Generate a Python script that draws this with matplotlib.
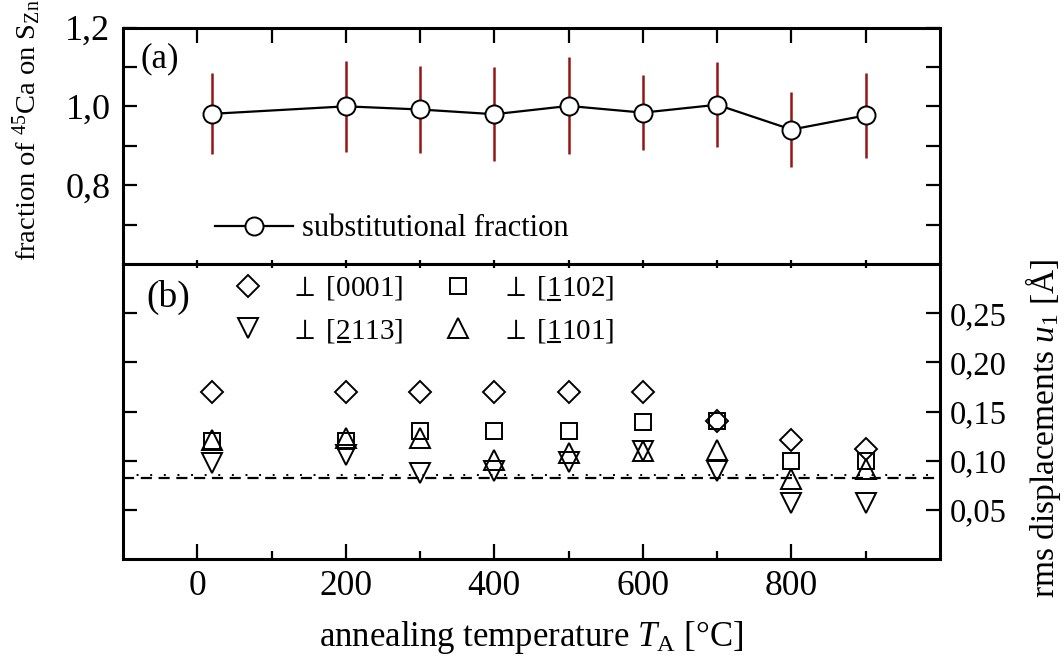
import matplotlib
matplotlib.use('Agg')
import matplotlib.pyplot as plt
from matplotlib.ticker import FixedLocator, FuncFormatter
from matplotlib.lines import Line2D
from matplotlib.transforms import IdentityTransform

plt.rcParams['font.family'] = ['Liberation Serif', 'DejaVu Serif']
plt.rcParams['mathtext.fontset'] = 'custom'
plt.rcParams['mathtext.rm'] = 'Liberation Serif'
plt.rcParams['mathtext.it'] = 'Liberation Serif:italic'
plt.rcParams['mathtext.bf'] = 'Liberation Serif:bold'

# ---------------- data ----------------
temps = [20, 200, 300, 400, 500, 600, 700, 800, 900]
fraction = [0.981, 1.000, 0.992, 0.980, 1.001, 0.984, 1.004, 0.941, 0.977]
fraction_err = [0.103, 0.116, 0.110, 0.119, 0.123, 0.095, 0.108, 0.095, 0.107]

u_0001 = [0.170, 0.170, 0.170, 0.170, 0.170, 0.170, 0.140, 0.121, 0.112]
u_1102 = [0.120, 0.120, 0.130, 0.130, 0.130, 0.139, 0.140, 0.100, 0.100]
u_2113 = [0.098, 0.106, 0.087, 0.089, 0.099, 0.110, 0.089, 0.057, 0.057]
u_1101 = [0.121, 0.123, 0.123, 0.101, 0.108, 0.110, 0.111, 0.081, 0.092]

ref_dashed = 0.0823
ref_dotted = 0.0855

top_yticks = [0.8, 1.0, 1.2]
top_yticklabels = ['0,8', '1,0', '1,2']
bot_yticks = [0.05, 0.10, 0.15, 0.20, 0.25]
bot_yticklabels = ['0,05', '0,10', '0,15', '0,20', '0,25']
xticks = [0, 200, 400, 600, 800]
xticks_minor = [100, 300, 500, 700, 900]

# direction labels; the digit at index "underlined" (inside the bracket) is underlined
label_0001, ul_0001 = r'$\perp$ [0001]', None
label_2113, ul_2113 = r'$\perp$ [2113]', 0
label_1102, ul_1102 = r'$\perp$ [1102]', 0
label_1101, ul_1101 = r'$\perp$ [1101]', 0


def fmt_from(ticks, labels):
    def f(v, p):
        for t, l in zip(ticks, labels):
            if abs(v - t) < 1e-6:
                return l
        return ''
    return FuncFormatter(f)


# ---------------- figure ----------------
W, H = 1064, 665
fig = plt.figure(figsize=(W / 100, H / 100), dpi=100)

L, R = 123, 940
T1, M, B2 = 27.5, 264, 559
ax1 = fig.add_axes([L / W, 1 - M / H, (R - L) / W, (M - T1) / H])
ax2 = fig.add_axes([L / W, 1 - B2 / H, (R - L) / W, (B2 - M) / H])

errc = '#951515'
# top panel
ax1.errorbar(temps, fraction, yerr=fraction_err, fmt='none', ecolor=errc,
             elinewidth=1.8, capsize=0, zorder=2)
ax1.plot(temps, fraction, '-', color='black', lw=1.6, marker='o', ms=13,
         mfc='white', mec='black', mew=1.4, zorder=3,
         label='substitutional fraction')
ax1.set_xlim(-100, 1000)
ax1.set_ylim(0.6, 1.2)
ax1.yaxis.set_major_locator(FixedLocator(top_yticks))
ax1.yaxis.set_major_formatter(fmt_from(top_yticks, top_yticklabels))
ax1.yaxis.set_minor_locator(FixedLocator([0.7, 0.9, 1.1]))
ax1.xaxis.set_major_locator(FixedLocator(xticks))
ax1.xaxis.set_minor_locator(FixedLocator(xticks_minor))
ax1.tick_params(axis='y', which='both', direction='in', left=True, right=True,
                length=10, width=1.6, labelsize=26, pad=9)
ax1.tick_params(axis='x', which='both', direction='in', top=True, bottom=True,
                labelbottom=False, width=1.6, length=3)
for t in ax1.xaxis.get_major_ticks() + ax1.xaxis.get_minor_ticks():
    t.tick2line.set_markersize(11)
ax1.text(0.022, (M - 42) / (M - T1), '(a)', transform=ax1.transAxes,
         fontsize=25, va='top', ha='left')
ax1.legend(loc='center left', bbox_to_anchor=(0.1126, 0.148),
           frameon=False, fontsize=22, handlelength=2.55,
           handletextpad=0.3, borderpad=0, borderaxespad=0)

# bottom panel
mk = dict(linestyle='none', mfc='none', mec='black', mew=1.4)
ax2.plot(temps, u_0001, marker='D', ms=11.5, label=label_0001, **mk)
ax2.plot(temps, u_2113, marker='v', ms=15, label=label_2113, **mk)
ax2.plot(temps, u_1102, marker='s', ms=12, label=label_1102, **mk)
ax2.plot(temps, u_1101, marker='^', ms=15, label=label_1101, **mk)
ax2.axhline(ref_dashed, color='black', lw=1.6, dashes=(5, 3))
ax2.axhline(ref_dotted, color='black', lw=1.4, dashes=(1, 6))
ax2.set_xlim(-100, 1000)
ax2.set_ylim(0, 0.30)
ax2.yaxis.set_major_locator(FixedLocator(bot_yticks))
ax2.yaxis.set_major_formatter(fmt_from(bot_yticks, bot_yticklabels))
ax2.xaxis.set_major_locator(FixedLocator(xticks))
ax2.xaxis.set_minor_locator(FixedLocator(xticks_minor))
ax2.xaxis.set_major_formatter(FuncFormatter(lambda v, p: '%d' % v))
ax2.tick_params(axis='y', which='both', direction='in', left=True, right=True,
                labelleft=False, labelright=True, length=10, width=1.6,
                labelsize=23.5, pad=7)
ax2.tick_params(axis='x', which='major', direction='in', top=True, bottom=True,
                length=11, width=1.6, labelsize=25.5, pad=8)
ax2.tick_params(axis='x', which='minor', direction='in', top=True, bottom=True,
                length=6, width=1.6)
for t in ax2.xaxis.get_major_ticks() + ax2.xaxis.get_minor_ticks():
    t.tick2line.set_markersize(3)
ax2.text(0.029, (B2 - 280) / (B2 - M), '(b)', transform=ax2.transAxes,
         fontsize=27, va='top', ha='left')
leg2 = ax2.legend(loc='upper left', bbox_to_anchor=(0.135, 0.965), ncol=2,
                  frameon=False, fontsize=21, handlelength=1.0,
                  handletextpad=0.95, columnspacing=1.38, labelspacing=0.5,
                  borderpad=0, borderaxespad=0)

for ax in (ax1, ax2):
    for s in ax.spines.values():
        s.set_linewidth(2.2)

fig.text(531 / W, 1 - 637 / H, r'annealing temperature $T_{\mathrm{A}}$ [°C]',
         ha='center', va='center', fontsize=25)
fig.text(27 / W, 1 - 130 / H, r'fraction of $^{45}$Ca on S$_{\mathrm{Zn}}$',
         rotation=90, ha='center', va='center', fontsize=20.5)
fig.text(1043 / W, 1 - 428 / H, r'rms displacements $u_{1}$ [Å]',
         rotation=90, ha='center', va='center', fontsize=24)

# underline the marked digits in the legend labels
fig.canvas.draw()
rend = fig.canvas.get_renderer()
ul_map = {label_0001: ul_0001, label_2113: ul_2113,
          label_1102: ul_1102, label_1101: ul_1101}
for txt in leg2.get_texts():
    s = txt.get_text()
    ui = ul_map.get(s)
    if ui is None:
        continue
    k = s.index('[') + 1 + ui
    prop = txt.get_fontproperties()
    w0, _, _ = rend.get_text_width_height_descent(s[:k], prop, ismath=True)
    w1, _, _ = rend.get_text_width_height_descent(s[:k + 1], prop, ismath=True)
    _, _, d = rend.get_text_width_height_descent(s, prop, ismath=True)
    bb = txt.get_window_extent(rend)
    ybase = bb.y0 + d
    fig.add_artist(Line2D([bb.x0 + w0 + 1, bb.x0 + w1 - 1], [ybase - 4, ybase - 4],
                          transform=IdentityTransform(), color='black', lw=1.5))

fig.savefig('out.png', dpi=100)
